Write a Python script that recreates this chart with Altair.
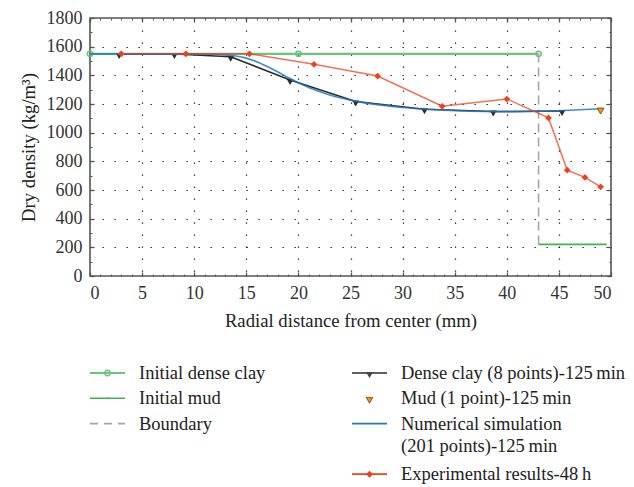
import altair as alt
import pandas as pd

FONT = "Liberation Serif"

# ---------------- data ----------------
clay_x = [0.0, 20.0, 43.05]
clay_y = [1550, 1550, 1550]

mud_x = [43.05, 49.6]
mud_y = [220, 220]

bnd_x = [43.05, 43.05]
bnd_y = [220, 1550]

dc_x = [2.8, 8.1, 13.5, 19.2, 25.5, 32.1, 38.7, 45.3]
dc_y = [1548, 1548, 1530, 1367, 1218, 1163, 1147, 1152]

mudpt_x = [49.0]
mudpt_y = [1165]

num_x = [0, 2, 4, 6, 8, 10, 12, 13, 14, 15, 16, 17, 18, 19, 20, 21, 22, 23, 24,
         25, 26, 28, 30, 32, 34, 36, 38, 40, 42, 44, 46, 48, 49]
num_y = [1550, 1550, 1550, 1550, 1550, 1549, 1547, 1543, 1535, 1520, 1495, 1462,
         1425, 1385, 1348, 1315, 1287, 1263, 1243, 1227, 1213, 1192, 1176, 1165,
         1157, 1151, 1148, 1147, 1148, 1151, 1156, 1163, 1167]

exp_x = [3.0, 9.2, 15.3, 21.5, 27.6, 33.8, 40.0, 44.0, 45.8, 47.5, 49.0]
exp_y = [1550, 1550, 1550, 1477, 1395, 1184, 1235, 1103, 738, 688, 622]

x_major = list(range(0, 51, 5))
x_minor = list(range(0, 51, 1))
y_major = list(range(0, 1801, 200))
y_minor = list(range(0, 1801, 100))

legend_labels_1 = ["Initial dense clay", "Initial mud", "Boundary"]
legend_labels_2 = ["Dense clay (8 points)-125\u2009min", "Mud (1 point)-125\u2009min",
                   "Numerical simulation", "(201 points)-125\u2009min",
                   "Experimental results-48\u2009h"]

C_CLAY = "#6cc57c"
C_MUD = "#3db54a"
C_BND = "#a6a6a6"
C_DC = "#2b2b2b"
C_NUM = "#1f78c4"
C_EXP = "#f2401c"
C_MUDPT = "#f7941d"
FRAME = "#555555"

W, H = 521, 258

xs = alt.Scale(domain=[0, 50], nice=False, zero=False)
ys = alt.Scale(domain=[0, 1800], nice=False, zero=False)

LBL = dict(labelFont=FONT, labelFontSize=18, labelColor="#333", titleFont=FONT,
           titleFontSize=18.7, titleFontWeight="normal", titleColor="#222", format="d")

ax_bottom = alt.Axis(orient="bottom", values=x_major, tickSize=4, offset=-4, domain=False,
                     grid=False, labelPadding=8, tickColor=FRAME, tickWidth=1.3,
                     title="Radial distance from center (mm)", titlePadding=9, **LBL)
ax_bottom_minor = alt.Axis(orient="bottom", values=x_minor, tickSize=2, offset=-2, domain=False,
                           grid=False, labels=False, tickColor=FRAME, tickWidth=1, title=None)
ax_top = alt.Axis(orient="top", values=x_major, tickSize=4, offset=-4, domain=False,
                  grid=False, labels=False, tickColor=FRAME, tickWidth=1.3, title=None)
ax_top_minor = alt.Axis(orient="top", values=x_minor, tickSize=2, offset=-2, domain=False,
                        grid=False, labels=False, tickColor=FRAME, tickWidth=1, title=None)
ax_grid = alt.Axis(orient="bottom", values=x_major[1:-1], ticks=False, labels=False, domain=False,
                   grid=True, gridDash=[1.3, 10.7], gridColor="#111", gridWidth=1.2, title=None)

ay_left = alt.Axis(orient="left", values=y_major, tickSize=4, offset=-4, domain=False,
                   grid=False, labelPadding=8, tickColor=FRAME, tickWidth=1.3,
                   title="Dry density (kg/m\u00b3)", titlePadding=8, **LBL)
ay_left_minor = alt.Axis(orient="left", values=y_minor, tickSize=2, offset=-2, domain=False,
                         grid=False, labels=False, tickColor=FRAME, tickWidth=1, title=None)
ay_right = alt.Axis(orient="right", values=y_major, tickSize=4, offset=-4, domain=False,
                    grid=False, labels=False, tickColor=FRAME, tickWidth=1.3, title=None)
ay_right_minor = alt.Axis(orient="right", values=y_minor, tickSize=2, offset=-2, domain=False,
                          grid=False, labels=False, tickColor=FRAME, tickWidth=1, title=None)
ay_grid = alt.Axis(orient="left", values=y_major[1:-1], ticks=False, labels=False, domain=False,
                   grid=True, gridDash=[1.3, 10.7], gridColor="#111", gridWidth=1.2, title=None)


def df(x, y):
    return pd.DataFrame({"x": x, "y": y})


def enc(ch, xa=None, ya=None):
    return ch.encode(
        x=alt.X("x:Q", scale=xs, axis=xa),
        y=alt.Y("y:Q", scale=ys, axis=ya),
    )


l_clay = enc(alt.Chart(df(clay_x, clay_y)).mark_line(color=C_CLAY, strokeWidth=2.2),
             ax_bottom, ay_left)
l_clay_pts = enc(alt.Chart(df(clay_x, clay_y)).mark_point(shape="circle", color=C_CLAY, filled=False,
                                                          size=28, strokeWidth=1.6, opacity=1),
                 ax_bottom_minor, ay_left_minor)
l_mud = enc(alt.Chart(df(mud_x, mud_y)).mark_line(color=C_MUD, strokeWidth=1.8),
            ax_top, ay_right)
l_bnd = enc(alt.Chart(df(bnd_x, bnd_y)).mark_line(color=C_BND, strokeWidth=1.6, strokeDash=[9, 5]),
            ax_top_minor, ay_right_minor)
l_dc = enc(alt.Chart(df(dc_x, dc_y)).mark_line(color=C_DC, strokeWidth=1.5),
           ax_grid, ay_grid)
l_dc_pts = enc(alt.Chart(df(dc_x, dc_y)).mark_point(shape="triangle-down", filled=True, color=C_DC,
                                                    size=48, opacity=1, yOffset=2))
l_num = enc(alt.Chart(df(num_x, num_y)).mark_line(color=C_NUM, strokeWidth=1.6, opacity=0.85,
                                                  interpolate="monotone"))
l_mudpt = enc(alt.Chart(df(mudpt_x, mudpt_y)).mark_point(shape="triangle-down", filled=True,
                                                         fill=C_MUDPT, stroke="#7a3a00",
                                                         strokeWidth=0.8, size=48, opacity=1,
                                                         yOffset=2))
l_exp = enc(alt.Chart(df(exp_x, exp_y)).mark_line(color=C_EXP, strokeWidth=1.5, opacity=0.75))
l_exp_pts = enc(alt.Chart(df(exp_x, exp_y)).mark_point(shape="diamond", filled=True, color=C_EXP,
                                                       size=45, opacity=1))

main = alt.layer(
    l_clay, l_clay_pts, l_mud, l_bnd, l_dc, l_dc_pts, l_num, l_mudpt, l_exp, l_exp_pts
).resolve_axis(x="independent", y="independent").properties(
    width=W, height=H,
    view=alt.ViewBackground(stroke=FRAME, strokeWidth=1.6),
)

# ---------------- legend (separate panel) ----------------
COL_X = [0, 262]
SYM_LEN = 35
TXT_DX = 49
ROW_H = 25.3

rows = []
for i, lab in enumerate(legend_labels_1):
    rows.append({"label": lab, "col": 0, "row": i})
for i, lab in enumerate(legend_labels_2):
    r = [0, 1, 2, 2.9, 4][i]
    rows.append({"label": lab, "col": 1, "row": r})
leg = pd.DataFrame(rows)
leg["x0"] = [COL_X[c] for c in leg["col"]]
leg["x1"] = leg["x0"] + SYM_LEN
leg["xm"] = leg["x0"] + SYM_LEN / 2
leg["xt"] = leg["x0"] + TXT_DX

LW = 521
LH = 126
lxs = alt.Scale(domain=[0, LW], range=[0, LW], nice=False, zero=False)
lys = alt.Scale(domain=[0, 4], range=[21, 21 + 4 * ROW_H], nice=False, zero=False)


def leg_rows(labels):
    return leg[leg["label"].isin(labels)]


def sym_line(labels, color, dash=None, width=1.6):
    kw = dict(color=color, strokeWidth=width)
    if dash:
        kw["strokeDash"] = dash
    return alt.Chart(leg_rows(labels)).mark_rule(**kw).encode(
        x=alt.X("x0:Q", scale=lxs, axis=None),
        x2="x1:Q",
        y=alt.Y("row:Q", scale=lys, axis=None),
    )


def sym_pt(labels, **kw):
    return alt.Chart(leg_rows(labels)).mark_point(opacity=1, **kw).encode(
        x=alt.X("xm:Q", scale=lxs, axis=None),
        y=alt.Y("row:Q", scale=lys, axis=None),
    )


legend_text = alt.Chart(leg).mark_text(
    align="left", baseline="middle", font=FONT, fontSize=18.5, color="#222"
).encode(
    x=alt.X("xt:Q", scale=lxs, axis=None),
    y=alt.Y("row:Q", scale=lys, axis=None),
    text="label:N",
)

legend_chart = alt.layer(
    sym_line([legend_labels_1[0]], C_CLAY, width=1.8),
    sym_pt([legend_labels_1[0]], shape="circle", filled=False, color=C_CLAY, size=28, strokeWidth=1.5),
    sym_line([legend_labels_1[1]], C_MUD, width=1.6),
    sym_pt([legend_labels_1[1]], shape="circle", filled=True, color=C_MUD, size=4),
    sym_line([legend_labels_1[2]], C_BND, dash=[8, 6], width=1.6),
    sym_line([legend_labels_2[0]], C_DC, width=1.6),
    sym_pt([legend_labels_2[0]], shape="triangle-down", filled=True, color="#444", size=48, yOffset=2),
    sym_pt([legend_labels_2[1]], shape="triangle-down", filled=True, fill=C_MUDPT, stroke="#7a3a00",
           strokeWidth=0.8, size=45, yOffset=2),
    sym_line([legend_labels_2[2]], C_NUM, width=1.6),
    sym_line([legend_labels_2[4]], C_EXP, width=1.8),
    sym_pt([legend_labels_2[4]], shape="diamond", filled=True, color=C_EXP, size=50),
    legend_text,
).properties(width=LW, height=LH, view=alt.ViewBackground(strokeOpacity=0))

chart = alt.vconcat(main, legend_chart, spacing=21).properties(
    padding={"left": 18, "top": 8, "right": 5, "bottom": 2}
).configure(background="white", font=FONT).configure_axis(
    labelFont=FONT, titleFont=FONT
).configure_text(font=FONT)

chart.save("out.html", embed_options={"renderer": "svg", "actions": False})
